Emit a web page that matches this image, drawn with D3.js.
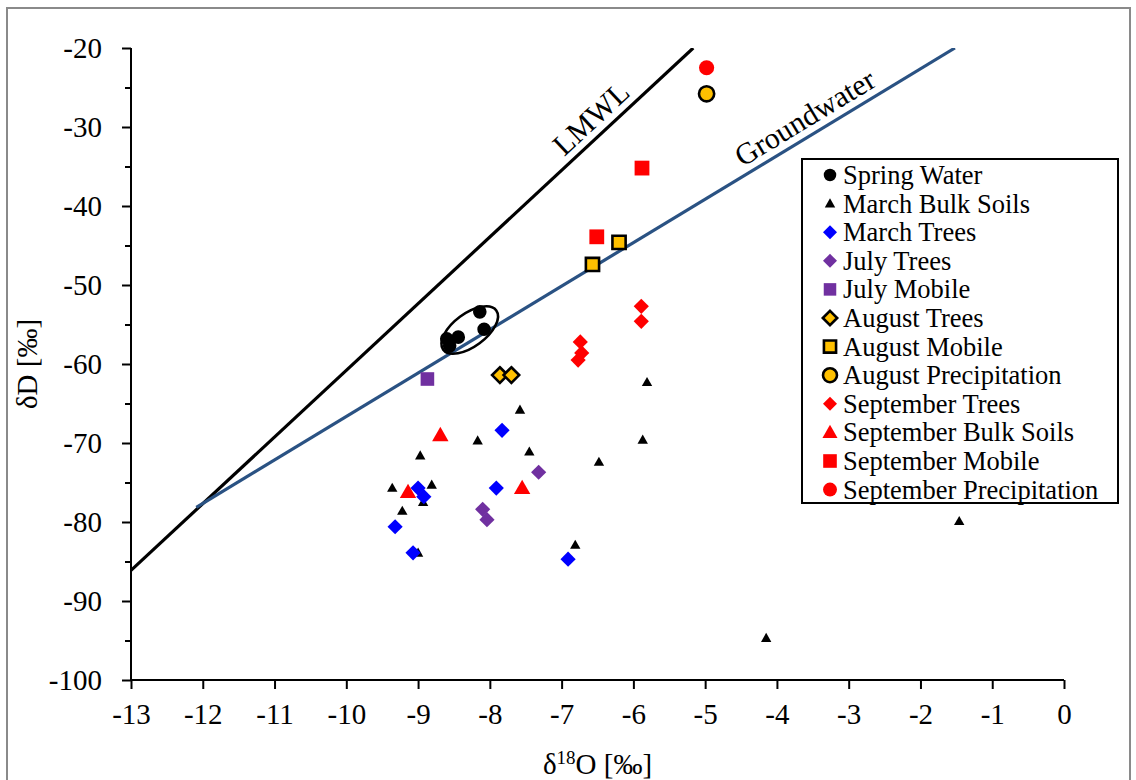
<!DOCTYPE html>
<html>
<head>
<meta charset="utf-8">
<script src="https://cdn.jsdelivr.net/npm/d3@7"></script>
<style>
  html, body { margin: 0; padding: 0; background: #fff; }
  svg { display: block; }
  svg text { font-family: "Liberation Serif", "Times New Roman", serif; fill: #000; }
</style>
</head>
<body>
<svg id="chart" width="1136" height="780"></svg>
<script>
// Isotope data: δ18O (x) and δD (y), ‰
const springX = [-8.14, -8.08, -8.60, -8.44, -8.56];
const springY = [-53.4, -55.6, -56.8, -56.6, -57.7];

const marchSoilX = [-9.36, -9.22, -8.97, -8.81, -8.93, -9.00, -8.17, -7.58, -7.45, -6.81, -6.48, -5.87, -5.81, -4.15, -1.46];
const marchSoilY = [-75.7, -78.6, -71.6, -75.3, -77.5, -83.9, -69.7, -65.8, -71.1, -82.9, -72.4, -69.6, -62.3, -94.7, -79.9];

const marchTreeX = [-7.83, -9.00, -8.92, -7.91, -9.32, -9.07, -6.91];
const marchTreeY = [-68.4, -75.7, -76.8, -75.7, -80.6, -83.9, -84.7];

const julyTreeX = [-7.32, -8.10, -8.04];
const julyTreeY = [-73.7, -78.4, -79.7];

const julyMobileX = [-8.87];
const julyMobileY = [-61.9];

const augTreeX = [-7.86, -7.70];
const augTreeY = [-61.4, -61.4];

const augMobileX = [-6.20, -6.57];
const augMobileY = [-44.6, -47.4];

const augPrecipX = [-4.98];
const augPrecipY = [-25.8];

const sepTreeX = [-5.89, -5.89, -6.74, -6.72, -6.77];
const sepTreeY = [-52.7, -54.6, -57.2, -58.6, -59.5];

const sepSoilX = [-8.69, -9.14, -7.55];
const sepSoilY = [-69.0, -76.2, -75.7];

const sepMobileX = [-5.88, -6.51];
const sepMobileY = [-35.2, -43.9];

const sepPrecipX = [-4.98];
const sepPrecipY = [-22.5];

// Reference lines: δD = slope · δ18O + intercept, drawn from xStart to the top of the plot
const lmwlLine = { slope: 8.44, intercept: 23.6, xStart: -13.0 };
const gwLine = { slope: 5.5, intercept: -11.64, xStart: -12.09 };

const xTicks = [-13, -12, -11, -10, -9, -8, -7, -6, -5, -4, -3, -2, -1, 0];
const yTicks = [-100, -90, -80, -70, -60, -50, -40, -30, -20];
const yMinorTicks = [-95, -85, -75, -65, -55, -45, -35, -25];

const legendNames = ["Spring Water", "March Bulk Soils", "March Trees", "July Trees", "July Mobile",
  "August Trees", "August Mobile", "August Precipitation", "September Trees",
  "September Bulk Soils", "September Mobile", "September Precipitation"];

const svg = d3.select("#chart");
const plot = { left: 131, right: 1064, top: 48, bottom: 680 };

const x = d3.scaleLinear().domain([-13, 0]).range([plot.left, plot.right]);
const y = d3.scaleLinear().domain([-100, -20]).range([plot.bottom, plot.top]);

const serif = "'Liberation Serif', 'Times New Roman', serif";

// outer frame
svg.append("rect").attr("x", 7).attr("y", 8).attr("width", 1123).attr("height", 790)
  .attr("fill", "#fff").attr("stroke", "#8a8a8a").attr("stroke-width", 2);

// axes
const tickFmt = d => (d < 0 ? "-" + Math.abs(d) : String(d));
const yAxis = svg.append("g").attr("transform", `translate(${plot.left},0)`)
  .call(d3.axisLeft(y).tickValues(yTicks).tickSize(9).tickPadding(20).tickFormat(tickFmt));
const yMinor = svg.append("g").attr("transform", `translate(${plot.left},0)`)
  .call(d3.axisLeft(y).tickValues(yMinorTicks).tickSize(6).tickFormat(() => ""));
yMinor.select(".domain").remove();
yMinor.selectAll(".tick text").remove();
const xAxis = svg.append("g").attr("transform", `translate(0,${plot.bottom})`)
  .call(d3.axisBottom(x).tickValues(xTicks).tickSize(9).tickPadding(14).tickFormat(tickFmt));

[yAxis, yMinor, xAxis].forEach(g => {
  g.attr("font-family", serif).attr("font-size", 29);
  g.selectAll(".domain").attr("stroke", "#000").attr("stroke-width", 2);
  g.selectAll(".tick line").attr("stroke", "#000").attr("stroke-width", 2);
  g.selectAll(".tick text").attr("fill", "#000");
});
// straight domain lines without end caps
yAxis.select(".domain").attr("d", `M0,${plot.top}V${plot.bottom}`);
xAxis.select(".domain").attr("d", `M${plot.left},0H${plot.right}`);

// axis titles
svg.append("text").attr("transform", `translate(37,${(plot.top + plot.bottom) / 2}) rotate(-90)`)
  .attr("text-anchor", "middle").style("font-size", "29px").text("δD [‰]");
const xt = svg.append("text").attr("x", (plot.left + plot.right) / 2).attr("y", 774)
  .attr("text-anchor", "middle").style("font-size", "29px");
xt.append("tspan").text("δ");
xt.append("tspan").attr("dy", -10).style("font-size", "19px").text("18");
xt.append("tspan").attr("dy", 10).text("O [‰]");

// clip for reference lines
svg.append("clipPath").attr("id", "plotclip").append("rect")
  .attr("x", plot.left).attr("y", plot.top).attr("width", plot.right - plot.left).attr("height", plot.bottom - plot.top);

function lineEnds(L) {
  const xEnd = (-20 - L.intercept) / L.slope;
  return [[L.xStart, L.slope * L.xStart + L.intercept], [xEnd, -20]];
}
const lineGen = d3.line().x(d => x(d[0])).y(d => y(d[1]));

svg.append("path").datum(lineEnds(lmwlLine)).attr("d", lineGen)
  .attr("fill", "none").attr("stroke", "#000").attr("stroke-width", 3.2).attr("clip-path", "url(#plotclip)");
svg.append("path").datum(lineEnds(gwLine)).attr("d", lineGen)
  .attr("fill", "none").attr("stroke", "#2a5283").attr("stroke-width", 3.2).attr("clip-path", "url(#plotclip)");

// line labels, set along each line
function lineLabel(L, xd, text, offset) {
  const p0 = lineEnds(L);
  const ang = Math.atan2(y(p0[1][1]) - y(p0[0][1]), x(p0[1][0]) - x(p0[0][0])) * 180 / Math.PI;
  const px = x(xd), py = y(L.slope * xd + L.intercept);
  svg.append("text").attr("transform", `translate(${px},${py}) rotate(${ang})`)
    .attr("text-anchor", "middle").attr("dy", -offset).style("font-size", "30px").text(text);
}
lineLabel(lmwlLine, -6.42, "LMWL", 8);
lineLabel(gwLine, -3.48, "Groundwater", 8);

// spring water ellipse
const ell = { cx: -8.28, cy: -55.7 };
svg.append("ellipse").attr("transform", `translate(${x(ell.cx)},${y(ell.cy)}) rotate(-36.5)`)
  .attr("rx", 33).attr("ry", 16.5).attr("fill", "none").attr("stroke", "#000").attr("stroke-width", 2.6);

// marker styles
const styles = [
  { shape: "circle",   r: 6.8, fill: "#000",    stroke: "none" },
  { shape: "triangle", r: 5.2, fill: "#000",    stroke: "none" },
  { shape: "diamond",  r: 7.6, fill: "#0000ff", stroke: "none" },
  { shape: "diamond",  r: 7.6, fill: "#7030a0", stroke: "none" },
  { shape: "square",   r: 6.8, fill: "#7030a0", stroke: "none" },
  { shape: "diamond",  r: 7.8, fill: "#ffc000", stroke: "#000" },
  { shape: "square",   r: 6.6, fill: "#ffc000", stroke: "#000" },
  { shape: "circle",   r: 7.6, fill: "#ffc000", stroke: "#000" },
  { shape: "diamond",  r: 7.6, fill: "#ff0000", stroke: "none" },
  { shape: "triangle", r: 8.2, fill: "#ff0000", stroke: "none" },
  { shape: "square",   r: 7.4, fill: "#ff0000", stroke: "none" },
  { shape: "circle",   r: 7.6, fill: "#ff0000", stroke: "none" }
];
const seriesX = [springX, marchSoilX, marchTreeX, julyTreeX, julyMobileX, augTreeX, augMobileX, augPrecipX, sepTreeX, sepSoilX, sepMobileX, sepPrecipX];
const seriesY = [springY, marchSoilY, marchTreeY, julyTreeY, julyMobileY, augTreeY, augMobileY, augPrecipY, sepTreeY, sepSoilY, sepMobileY, sepPrecipY];

function shapePath(s, scale) {
  const r = s.r * scale;
  if (s.shape === "circle") return `M${r},0A${r},${r},0,1,1,${-r},0A${r},${r},0,1,1,${r},0Z`;
  if (s.shape === "square") return `M${-r},${-r}H${r}V${r}H${-r}Z`;
  if (s.shape === "diamond") return `M0,${-r}L${r},0L0,${r}L${-r},0Z`;
  // triangle: width 2r, height ~1.75r
  const h = r * 1.75;
  return `M0,${-h * 0.58}L${r},${h * 0.42}L${-r},${h * 0.42}Z`;
}

function drawMarker(g, s, scale) {
  g.append("path").attr("d", shapePath(s, scale))
    .attr("fill", s.fill).attr("stroke", s.stroke === "none" ? null : s.stroke)
    .attr("stroke-width", s.stroke === "none" ? null : 2.6);
}

// draw series in order
styles.forEach((s, i) => {
  const g = svg.append("g");
  seriesX[i].forEach((v, j) => {
    const m = g.append("g").attr("transform", `translate(${x(v)},${y(seriesY[i][j])})`);
    drawMarker(m, s, 1);
  });
});

// legend
const leg = { x: 802, y: 159, w: 316, h: 344, rowTop: 175, rowStep: 28.6 };
svg.append("rect").attr("x", leg.x).attr("y", leg.y).attr("width", leg.w).attr("height", leg.h)
  .attr("fill", "#fff").attr("stroke", "#000").attr("stroke-width", 2);
legendNames.forEach((name, i) => {
  const cy = leg.rowTop + i * leg.rowStep;
  const m = svg.append("g").attr("transform", `translate(830,${cy})`);
  const s = styles[i];
  const sc = s.shape === "triangle" && s.r < 6 ? 1.0 : 0.92;
  drawMarker(m, s, sc);
  svg.append("text").attr("x", 843).attr("y", cy + 9).style("font-size", "26.5px").text(name);
});
</script>
</body>
</html>
